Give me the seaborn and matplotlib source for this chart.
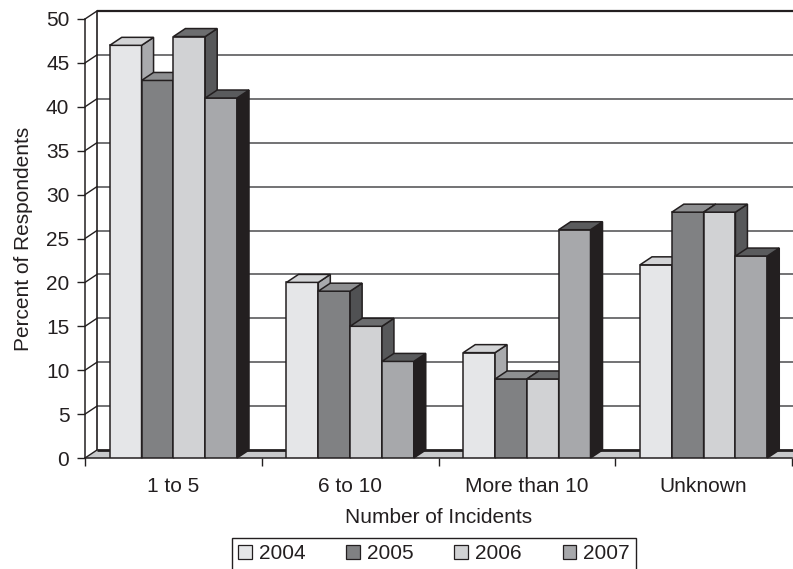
import numpy as np
import pandas as pd
import matplotlib
matplotlib.use("Agg")
import matplotlib.pyplot as plt
from matplotlib.patches import Polygon
import seaborn as sns

# Survey data: share of respondents by number of incidents, per year
categories = ["1 to 5", "6 to 10", "More than 10", "Unknown"]
years = ["2004", "2005", "2006", "2007"]
pct_2004 = [47, 20, 12, 22]
pct_2005 = [43, 19, 9, 28]
pct_2006 = [48, 15, 9, 28]
pct_2007 = [41, 11, 26, 23]
y_ticks = list(range(0, 55, 5))

# Face shades of the pseudo-3D columns (front, top, side) per year
front_colors = ["#e5e6e8", "#808183", "#d1d2d4", "#a7a8ab"]
top_colors = ["#d3d4d6", "#8e8f91", "#6c6d6f", "#5a5b5d"]
side_colors = ["#a9aaad", "#505153", "#57585a", "#231f20"]
INK = "#231f20"

df = pd.DataFrame({
    "Number of Incidents": categories * len(years),
    "Year": np.repeat(years, len(categories)),
    "Percent of Respondents": pct_2004 + pct_2005 + pct_2006 + pct_2007,
})

sns.set_style("white")
plt.rcParams["font.family"] = ["Liberation Sans", "DejaVu Sans"]
plt.rcParams["font.size"] = 15
plt.rcParams["text.color"] = INK
plt.rcParams["axes.labelcolor"] = INK
plt.rcParams["xtick.color"] = INK
plt.rcParams["ytick.color"] = INK

W, H = 793, 569
fig = plt.figure(figsize=(W / 100, H / 100), dpi=100)
ax = fig.add_axes([85 / W, 1 - 458 / H, (792 - 85) / W, (458 - 19) / H])

sns.barplot(
    data=df, x="Number of Incidents", y="Percent of Respondents", hue="Year",
    palette=front_colors, saturation=1, width=0.72, gap=0, errorbar=None,
    edgecolor=INK, linewidth=1.1, ax=ax,
)

xmin, xmax = -0.5, 3.5
ymin, ymax = 0, 50
ax.set_xlim(xmin, xmax)
ax.set_ylim(ymin, ymax)

# depth offset of the 3D extrusion: 12 px right, 8 px up
px_x = (xmax - xmin) / (792 - 85)
px_y = (ymax - ymin) / (458 - 19)
dx, dy = 12 * px_x, 8 * px_y

# floor
floor = Polygon([(xmin, 0), (xmax, 0), (xmax + dx, dy), (xmin + dx, dy)],
                closed=True, facecolor="#c8c9cb", edgecolor="none",
                zorder=0.5, clip_on=False)
ax.add_patch(floor)
ax.plot([xmin + dx, xmax + dx + 0.2], [dy, dy], color=INK, lw=2.0,
        zorder=0.8, clip_on=False, solid_capstyle="butt")

# back wall gridlines and connectors to the front value axis
for yv in y_ticks[1:]:
    is_top = yv == ymax
    ax.plot([xmin + dx, xmax + dx + 0.2], [yv + dy, yv + dy],
            color=INK if is_top else "#5a5a5c", lw=1.6 if is_top else 1.2,
            zorder=0.6, clip_on=False, solid_capstyle="butt")
for yv in y_ticks:
    ax.plot([xmin, xmin + dx], [yv, yv + dy], color=INK, lw=1.0,
            zorder=0.7, clip_on=False)
ax.plot([xmin + dx, xmin + dx], [dy, ymax + dy], color=INK, lw=1.2,
        zorder=0.7, clip_on=False)

# top and side faces for each column, drawn left to right
bars = []
for i, cont in enumerate(ax.containers):
    for bar in cont:
        bars.append((bar, i))
bars.sort(key=lambda t: t[0].get_x())
for k, (bar, i) in enumerate(bars):
    z = 3 + 0.01 * k
    x0, w, h = bar.get_x(), bar.get_width(), bar.get_height()
    bar.set_zorder(z)
    top = Polygon([(x0, h), (x0 + w, h), (x0 + w + dx, h + dy), (x0 + dx, h + dy)],
                  closed=True, facecolor=top_colors[i], edgecolor=INK,
                  lw=1.1, zorder=z, clip_on=False, joinstyle="miter")
    side = Polygon([(x0 + w, 0), (x0 + w + dx, dy), (x0 + w + dx, h + dy), (x0 + w, h)],
                   closed=True, facecolor=side_colors[i], edgecolor=INK,
                   lw=1.1, zorder=z, clip_on=False, joinstyle="miter")
    ax.add_patch(side)
    ax.add_patch(top)

# axes frame and ticks
for s in ("top", "right"):
    ax.spines[s].set_visible(False)
for s in ("left", "bottom"):
    ax.spines[s].set_color(INK)
    ax.spines[s].set_linewidth(1.1)
    ax.spines[s].set_zorder(2.5)

ax.set_yticks(y_ticks)
ax.tick_params(axis="y", left=True, direction="out", length=5.8, width=1.0,
               pad=5.5, labelsize=15)
ax.set_xticks(range(len(categories)))
ax.set_xticklabels(categories)
ax.set_xticks([-0.5, 0.5, 1.5, 2.5, 3.5], minor=True)
ax.tick_params(axis="x", which="major", length=0, pad=14, labelsize=15)
ax.tick_params(axis="x", which="minor", bottom=True, direction="out",
               length=5.8, width=1.0)

ax.set_xlabel("Number of Incidents", fontsize=15, labelpad=8)
ax.set_ylabel("Percent of Respondents", fontsize=15, labelpad=9)

sns.move_legend(
    ax, "upper left", bbox_to_anchor=(232 / W, 1 - 538 / H),
    bbox_transform=fig.transFigure, ncol=4, title=None, frameon=True,
    fontsize=15, handlelength=0.67, handleheight=0.67, handletextpad=0.33,
    columnspacing=1.95, borderpad=0.3, borderaxespad=0, fancybox=False,
    framealpha=1,
)
leg = ax.get_legend()
leg.get_frame().set_edgecolor(INK)
leg.get_frame().set_linewidth(1.0)
for hnd in leg.legend_handles:
    hnd.set_edgecolor(INK)
    hnd.set_linewidth(0.9)

fig.savefig("out.png", dpi=100)
